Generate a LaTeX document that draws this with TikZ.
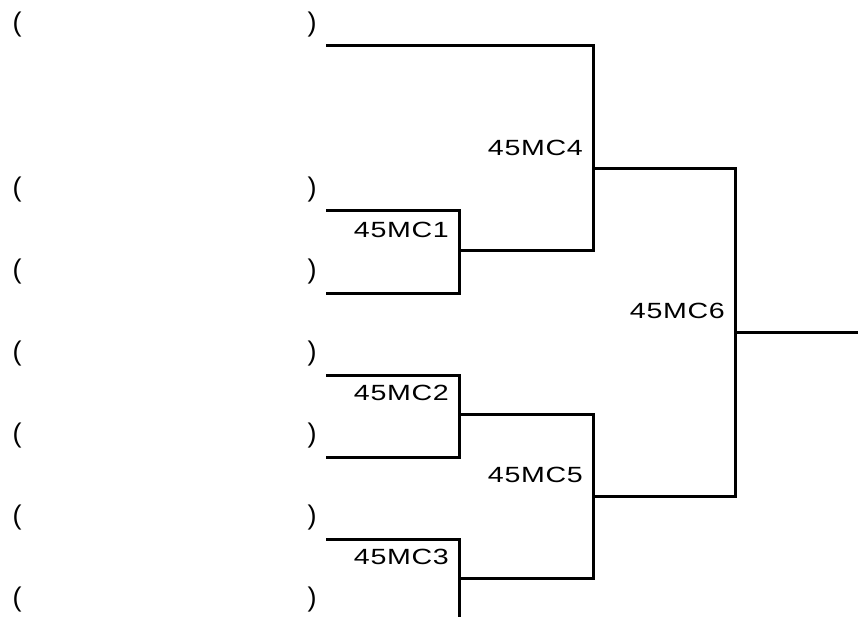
\documentclass[tikz,border=0pt]{standalone}
\usepackage{fontspec}
\newfontfamily\gothic[FakeStretch=1.3,LetterSpace=3]{Liberation Sans}
\newfontfamily\parfont{Liberation Sans}
\tikzset{ln/.style={line width=3pt},lb/.style={font=\gothic\fontsize{22}{24}\selectfont,anchor=base east,inner sep=0pt},pn/.style={font=\parfont\fontsize{27}{28}\selectfont,inner sep=0pt}}
\begin{document}
\begin{tikzpicture}[x=1pt,y=-1pt]
\useasboundingbox[fill=white](0,0)rectangle(858,617);\clip(0,0)rectangle(858,617);
\foreach\i/\y in{1/25,2/190,3/272,4/354,5/436,6/518,7/600}{\node[pn](l\i)at(17,\y){(};\node[pn](r\i)at(312,\y){)};\coordinate(s\i)at(326,{\y+21});}
\coordinate(m1)at(459,251);\coordinate(m2)at(459,414);\coordinate(m3)at(459,578);
\coordinate(m4)at(593,169);\coordinate(m5)at(593,496);\coordinate(m6)at(735,332);\coordinate(w)at(858,332);
\draw[ln](s2)-|(m1)|-(s3);\draw[ln](s4)-|(m2)|-(s5);\draw[ln](s6)-|(m3)|-(s7);
\draw[ln](s1)-|(m4)|-(m1);\draw[ln](m2)-|(m5)|-(m3);\draw[ln](m4)-|(m6)|-(m5);\draw[ln](m6)--(w);
\foreach\m/\t in{m1/45MC1,m2/45MC2,m3/45MC3,m4/45MC4,m5/45MC5,m6/45MC6}\node[lb](t\m)at([xshift=-10pt,yshift=13.5pt]\m){\t};
\end{tikzpicture}
\end{document}
